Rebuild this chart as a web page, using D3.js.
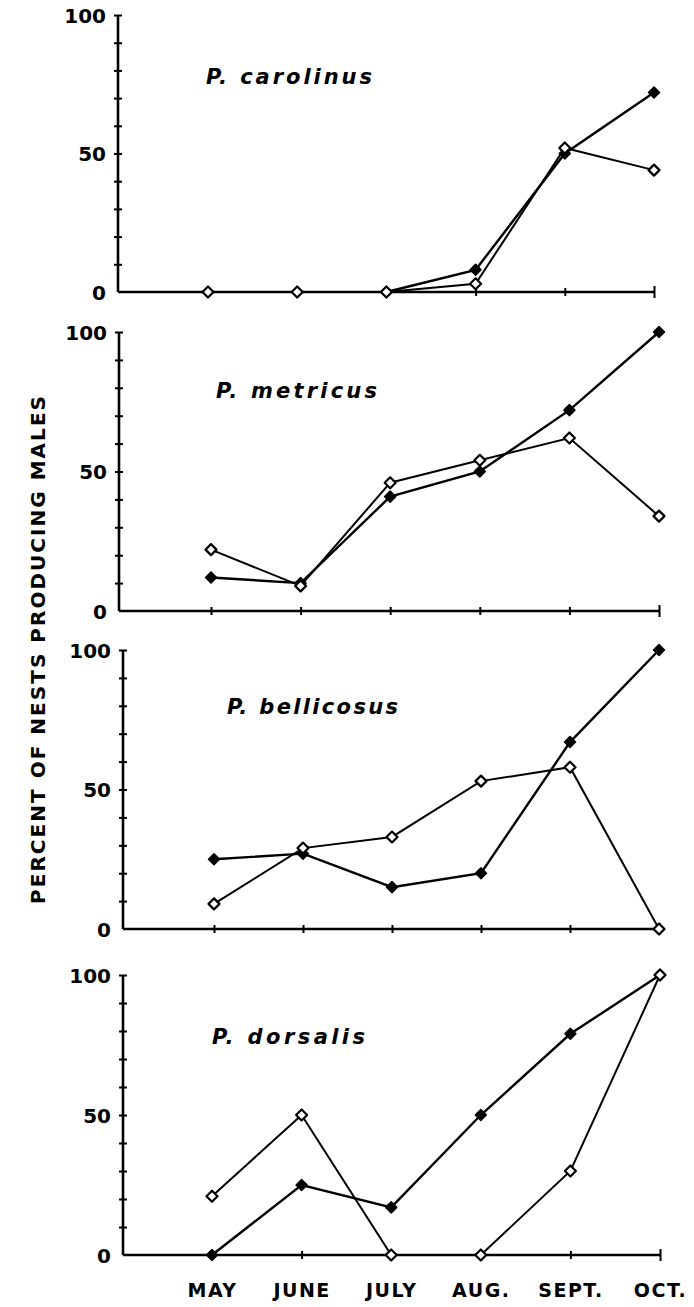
<!DOCTYPE html>
<html>
<head>
<meta charset="utf-8">
<script src="https://cdn.jsdelivr.net/npm/d3@7/dist/d3.min.js"></script>
<style>
  html, body { margin: 0; padding: 0; background: #fff; }
  svg { display: block; }
  text { font-family: "DejaVu Sans", sans-serif; font-weight: bold; fill: #000; }
</style>
</head>
<body>
<svg id="chart" width="694" height="1307"></svg>
<script>
// ---- data ----
const months = ["MAY", "JUNE", "JULY", "AUG.", "SEPT.", "OCT."];
const species = ["P. carolinus", "P. metricus", "P. bellicosus", "P. dorsalis"];
const yTickValues = [0, 10, 20, 30, 40, 50, 60, 70, 80, 90, 100];
const yTickLabels = [0, 50, 100];

const carolinusFilled = [null, null, 0, 8, 50, 72];
const carolinusOpen   = [0, 0, 0, 3, 52, 44];
const metricusFilled  = [12, 10, 41, 50, 72, 100];
const metricusOpen    = [22, 9, 46, 54, 62, 34];
const bellicosusFilled = [25, 27, 15, 20, 67, 100];
const bellicosusOpen   = [9, 29, 33, 53, 58, 0];
const dorsalisFilled  = [0, 25, 17, 50, 79, 100];
const dorsalisOpen    = [21, 50, 0, 0, 30, 100];

const filledSeries = [carolinusFilled, metricusFilled, bellicosusFilled, dorsalisFilled];
const openSeries   = [carolinusOpen, metricusOpen, bellicosusOpen, dorsalisOpen];

// ---- layout (per panel, as in the scanned figure) ----
const layout = [
  { ax: 118, x0: 208, x1: 654, yTop: 15,  yBot: 292,  tx: 206, ty: 84,   tw: 166 },
  { ax: 119, x0: 211, x1: 659, yTop: 332, yBot: 611,  tx: 216, ty: 398,  tw: 161 },
  { ax: 123, x0: 214, x1: 659, yTop: 650, yBot: 929,  tx: 227, ty: 714,  tw: 171 },
  { ax: 123, x0: 212, x1: 660, yTop: 975, yBot: 1255, tx: 212, ty: 1044, tw: 153 }
];

const svg = d3.select("#chart");
const diamond = "M0,-5.5L5.5,0L0,5.5L-5.5,0Z";

species.forEach((name, i) => {
  const L = layout[i];
  const x = d3.scalePoint().domain(months).range([L.x0, L.x1]);
  const y = d3.scaleLinear().domain([0, 100]).range([L.yBot, L.yTop]);
  const g = svg.append("g");

  // y axis
  const yAxis = d3.axisLeft(y)
    .tickValues(yTickValues)
    .tickSize(4)
    .tickPadding(8)
    .tickFormat(d => yTickLabels.includes(d) ? d : "");
  const ya = g.append("g").attr("transform", `translate(${L.ax},0)`).call(yAxis);
  ya.select(".domain").remove();
  ya.selectAll(".tick line").attr("x1", 4).attr("stroke", "#000").attr("stroke-width", 2);
  ya.selectAll(".tick").filter(d => d === 0).select("line").remove();
  ya.selectAll(".tick text").style("font-size", "20px").attr("font-family", "DejaVu Sans")
    .attr("font-weight", "bold").attr("fill", "#000").attr("dy", "0.36em");
  g.append("line").attr("x1", L.ax).attr("x2", L.ax).attr("y1", y(100)).attr("y2", y(0))
    .attr("stroke", "#000").attr("stroke-width", 2.6);

  // x axis
  const xAxis = d3.axisBottom(x).tickSize(4).tickSizeOuter(0)
    .tickPadding(25)
    .tickFormat(d => i === species.length - 1 ? d : "");
  const xa = g.append("g").attr("transform", `translate(0,${L.yBot})`).call(xAxis);
  xa.select(".domain").remove();
  xa.selectAll(".tick line").attr("y1", -4).attr("stroke", "#000").attr("stroke-width", 2);
  xa.selectAll(".tick").filter(d => d === "OCT.").select("line").attr("y1", -6).attr("y2", 6);
  xa.selectAll(".tick text").style("font-size", "19px").attr("font-family", "DejaVu Sans")
    .attr("font-weight", "bold").attr("fill", "#000").attr("letter-spacing", "1.5px").attr("dx", 0);
  g.append("line").attr("x1", L.ax).attr("x2", x(months[months.length - 1])).attr("y1", L.yBot).attr("y2", L.yBot)
    .attr("stroke", "#000").attr("stroke-width", 2.4);

  // title
  g.append("text").attr("x", L.tx).attr("y", L.ty)
    .attr("font-style", "italic").style("font-size", "21px")
    .attr("textLength", L.tw).attr("lengthAdjust", "spacing")
    .text(name);

  const line = d3.line().defined(d => d.v !== null).x(d => x(d.m)).y(d => y(d.v));
  const fData = months.map((m, k) => ({ m, v: filledSeries[i][k] }));
  const oData = months.map((m, k) => ({ m, v: openSeries[i][k] }));

  g.append("path").datum(fData).attr("d", line).attr("fill", "none").attr("stroke", "#000").attr("stroke-width", 2.4);
  g.append("path").datum(oData).attr("d", line).attr("fill", "none").attr("stroke", "#000").attr("stroke-width", 2);

  g.selectAll(".fm").data(fData.filter(d => d.v !== null)).join("path")
    .attr("d", diamond).attr("transform", d => `translate(${x(d.m)},${y(d.v)})`)
    .attr("fill", "#000").attr("stroke", "#000").attr("stroke-width", 1.5).attr("stroke-linejoin", "round");
  g.selectAll(".om").data(oData.filter(d => d.v !== null)).join("path")
    .attr("d", diamond).attr("transform", d => `translate(${x(d.m)},${y(d.v)})`)
    .attr("fill", "#fff").attr("stroke", "#000").attr("stroke-width", 2.2).attr("stroke-linejoin", "round");
});

// y axis label
svg.append("text")
  .attr("transform", "translate(45,650) rotate(-90)")
  .attr("text-anchor", "middle")
  .style("font-size", "20px")
  .attr("textLength", 508).attr("lengthAdjust", "spacing")
  .text("PERCENT OF NESTS PRODUCING MALES");
</script>
</body>
</html>
